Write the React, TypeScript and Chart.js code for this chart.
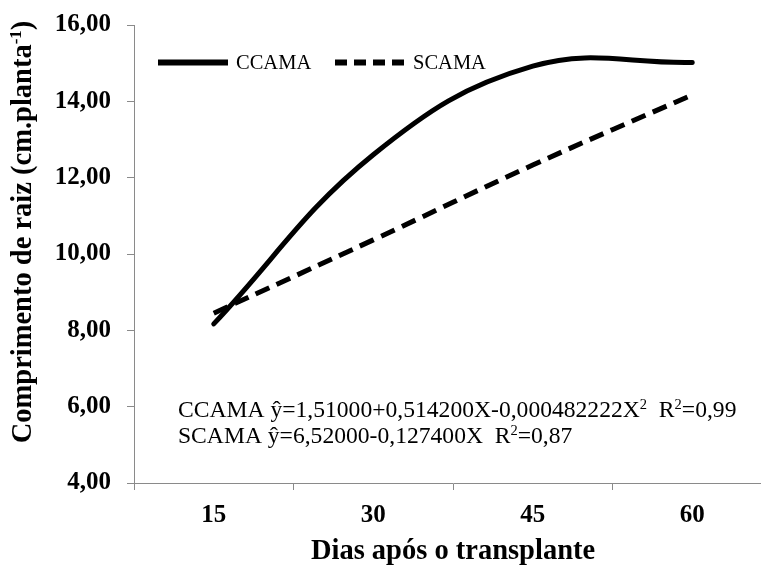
import React, { useEffect, useRef } from "react";
import { Chart, registerables } from "chart.js";

Chart.register(...registerables);

// ---- data ----
const days = ["15", "30", "45", "60"];
const ccama = [8.17, 12.6, 14.92, 15.02];
const scama = [8.45, 10.37, 12.33, 14.17];
const seriesNames = ["CCAMA", "SCAMA"];
const yMin = 4;
const yMax = 16;
const yStep = 2;
const yTitleMain = "Comprimento de raiz (cm.planta";
const yTitleSup = "-1";
const yTitleEnd = ")";
const xTitle = "Dias após o transplante";
const eqLine1 = [
  { t: "CCAMA ŷ=1,51000+0,514200X-0,000482222X", sup: false },
  { t: "2", sup: true },
  { t: "  R", sup: false },
  { t: "2", sup: true },
  { t: "=0,99", sup: false },
];
const eqLine2 = [
  { t: "SCAMA ŷ=6,52000-0,127400X  R", sup: false },
  { t: "2", sup: true },
  { t: "=0,87", sup: false },
];

const SERIF = "'Liberation Serif', 'Times New Roman', serif";
const AXIS_GRAY = "#8a8a8a";

function drawRuns(ctx: CanvasRenderingContext2D, runs: { t: string; sup: boolean }[], x: number, y: number, size: number, supSize: number, weight: string) {
  let cx = x;
  for (const r of runs) {
    ctx.font = `${weight} ${r.sup ? supSize : size}px ${SERIF}`;
    ctx.fillText(r.t, cx, r.sup ? y - size * 0.36 : y);
    cx += ctx.measureText(r.t).width;
  }
}

function runsWidth(ctx: CanvasRenderingContext2D, runs: { t: string; sup: boolean }[], size: number, supSize: number, weight: string) {
  let w = 0;
  for (const r of runs) {
    ctx.font = `${weight} ${r.sup ? supSize : size}px ${SERIF}`;
    w += ctx.measureText(r.t).width;
  }
  return w;
}

const overlayPlugin = {
  id: "overlay",
  afterDraw(chart: any) {
    const ctx: CanvasRenderingContext2D = chart.ctx;
    const area = chart.chartArea;
    ctx.save();
    ctx.fillStyle = "#000";
    ctx.textBaseline = "alphabetic";
    ctx.textAlign = "left";

    // Y axis title (rotated, with superscript)
    const yRuns = [
      { t: yTitleMain, sup: false },
      { t: yTitleSup, sup: true },
      { t: yTitleEnd, sup: false },
    ];
    const tw = runsWidth(ctx, yRuns, 28.5, 17, "bold");
    ctx.save();
    ctx.translate(31, 232);
    ctx.rotate(-Math.PI / 2);
    drawRuns(ctx, yRuns, -tw / 2, 0, 28.5, 17, "bold");
    ctx.restore();

    // Legend inside plot
    const ds = chart.data.datasets;
    const legendY = 62.5;
    const starts = [area.left + 24, area.left + 201];
    ds.forEach((d: any, i: number) => {
      const x0 = starts[i];
      ctx.save();
      ctx.strokeStyle = d.borderColor;
      ctx.lineWidth = 6;
      ctx.lineCap = "butt";
      ctx.setLineDash(i === 0 ? [] : [12, 7]);
      ctx.beginPath();
      ctx.moveTo(x0, legendY);
      ctx.lineTo(x0 + 70, legendY);
      ctx.stroke();
      ctx.restore();
      ctx.font = `20.5px ${SERIF}`;
      ctx.fillStyle = "#000";
      ctx.fillText(d.label, x0 + 78, legendY + 6.5);
    });

    // Regression equations
    drawRuns(ctx, eqLine1, area.left + 44, 417, 23.6, 14.5, "normal");
    drawRuns(ctx, eqLine2, area.left + 44, 443, 23.6, 14.5, "normal");
    ctx.restore();
  },
};

export default function App() {
  const ref = useRef<HTMLCanvasElement | null>(null);

  useEffect(() => {
    if (!ref.current) return;
    const chart = new Chart(ref.current, {
      type: "line",
      data: {
        labels: days,
        datasets: [
          {
            label: seriesNames[0],
            data: ccama,
            borderColor: "#000",
            backgroundColor: "#000",
            borderWidth: 5,
            pointRadius: 0,
            tension: 0.4,
            fill: false,
            borderCapStyle: "round",
          },
          {
            label: seriesNames[1],
            data: scama,
            borderColor: "#000",
            backgroundColor: "#000",
            borderWidth: 5,
            borderDash: [15, 8],
            pointRadius: 0,
            tension: 0.4,
            fill: false,
          },
        ],
      },
      options: {
        responsive: false,
        animation: false,
        layout: { padding: { top: 25, right: 28, bottom: 0, left: 0 } },
        plugins: {
          legend: { display: false },
          tooltip: { enabled: false },
        },
        scales: {
          x: {
            type: "category",
            offset: true,
            grid: {
              display: true,
              offset: true,
              drawOnChartArea: false,
              drawTicks: true,
              tickLength: 7,
              color: AXIS_GRAY,
            },
            border: { display: true, color: AXIS_GRAY, width: 1 },
            ticks: {
              color: "#000",
              padding: 11,
              font: { family: SERIF, size: 25, weight: "bold" },
            },
            title: {
              display: true,
              text: xTitle,
              color: "#000",
              padding: { top: 0, bottom: -2 },
              font: { family: SERIF, size: 28.5, weight: "bold" },
            },
            afterFit(scale: any) {
              scale.height = 84;
              scale.paddingLeft = 0;
              scale.paddingRight = 0;
            },
          },
          y: {
            min: yMin,
            max: yMax,
            grid: {
              display: true,
              drawOnChartArea: false,
              drawTicks: true,
              tickLength: 7,
              color: AXIS_GRAY,
            },
            border: { display: true, color: AXIS_GRAY, width: 1 },
            ticks: {
              stepSize: yStep,
              color: "#000",
              padding: 16,
              font: { family: SERIF, size: 25, weight: "bold" },
              callback: (v: any) => Number(v).toFixed(2).replace(".", ","),
            },
            afterFit(scale: any) {
              scale.width = 134;
              scale.paddingTop = 0;
              scale.paddingBottom = 0;
            },
          },
        },
      },
      plugins: [overlayPlugin],
    });
    return () => chart.destroy();
  }, []);

  return (
    <div
      style={{
        position: "absolute",
        left: 0,
        top: 0,
        width: 761,
        height: 567,
        overflow: "hidden",
        background: "#fff",
      }}
    >
      <canvas ref={ref} width={800} height={567} style={{ width: 800, height: 567, display: "block" }} />
    </div>
  );
}
